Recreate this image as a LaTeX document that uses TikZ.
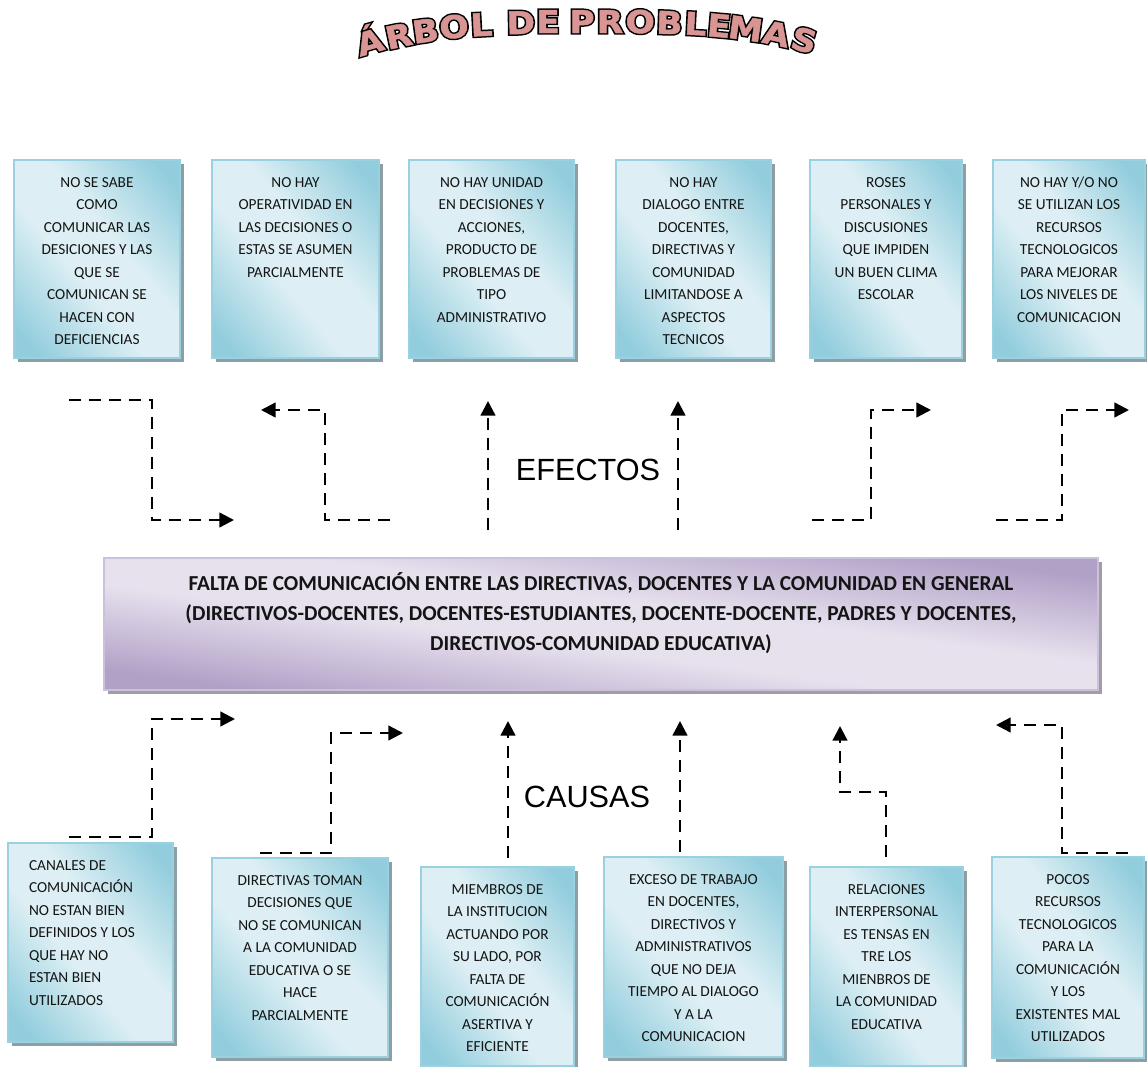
\documentclass[tikz,border=0pt]{standalone}
\usepackage{fontspec}
\usepackage{graphicx}
\setmainfont{Carlito}
\newfontfamily\titlefont{DejaVu Sans Bold}[FakeBold=1.5]
\newfontfamily\titleedge{DejaVu Sans Bold}[FakeBold=11]
\newfontfamily\labelfont{Liberation Sans}
\usetikzlibrary{arrows.meta,backgrounds}

\definecolor{bdark}{HTML}{92CDDD}
\definecolor{blight}{HTML}{DDEFF4}
\definecolor{bedge}{HTML}{9AD1E0}
\definecolor{bshadow}{HTML}{8C9FA5}
\definecolor{pdark}{HTML}{B2A1C7}
\definecolor{plight}{HTML}{E7E1EE}
\definecolor{pedge}{HTML}{CCC1DA}
\definecolor{pshadow}{HTML}{A09DA6}
\definecolor{titlepink}{HTML}{D99594}
\definecolor{inktext}{HTML}{141414}

% diagonal two-tone fills: dark corners, light band along the other diagonal
\pgfdeclareverticalshading{tealdiag}{100bp}{color(0bp)=(bdark); color(20bp)=(bdark); color(43bp)=(blight); color(57bp)=(blight); color(80bp)=(bdark); color(100bp)=(bdark)}
\pgfdeclareverticalshading{lilacdiag}{100bp}{color(0bp)=(pdark); color(20bp)=(pdark); color(43bp)=(plight); color(57bp)=(plight); color(80bp)=(pdark); color(100bp)=(pdark)}

\newlength\px
\setlength\px{0.75pt}

% box body: width, height (px), alignment, lines
\newcommand\boxtext[4]{%
  \begin{minipage}[t][#2\px][t]{#1\px}#3\fontsize{11.5}{16.9}\selectfont\color{inktext}%
  \rule{0pt}{27\px}#4\end{minipage}}

% outlined title letter: a heavier black glyph under the pink one
\newcommand\wordart[1]{\scalebox{1.1}[1]{%
  \rlap{\titleedge\textcolor{black}{#1}}\titlefont\textcolor{titlepink}{#1}}}

% drop shadow and diagonal fill behind a box: node, width, height (px), shading, shadow colour
\newcommand\backdrop[5]{%
  \fill[#5] ([xshift=3pt,yshift=-3pt]#1.north west) rectangle ([xshift=3pt,yshift=-3pt]#1.south east);
  \shade[shading=#4, shading angle=-45,
    transform canvas={shift={(#1.north west)}, xscale=#2/100, yscale=#3/100}]
    (0,0) rectangle (100,100);}

\tikzset{
  tealbox/.style={anchor=north west, inner sep=0pt, outer sep=0pt,
    draw=bedge, line width=1.3pt},
  lilacbox/.style={anchor=north west, inner sep=0pt, outer sep=0pt,
    draw=pedge, line width=1.5pt},
  titleletter/.style={anchor=base, inner sep=0pt, font=\fontsize{23.5}{23.5}\selectfont},
  bigword/.style={inner sep=0pt, font=\labelfont\fontsize{23}{23}\selectfont},
  link/.style={draw=black, line width=1.8pt, dash pattern=on 9pt off 6pt,
    -{Triangle[length=11pt,width=11pt]}},
}

\begin{document}
\begin{tikzpicture}[x=0.75pt,y=-0.75pt]
\useasboundingbox (0,0) rectangle (1147,1067);

% ---- title, set on a gentle arch ----
\node[titleletter, rotate=16]  (t1)  at (373,53) {\wordart{Á}};
\node[titleletter, rotate=12]  (t2)  at (401,47) {\wordart{R}};
\node[titleletter, rotate=8]   (t3)  at (427,42) {\wordart{B}};
\node[titleletter, rotate=5]   (t4)  at (455,38) {\wordart{O}};
\node[titleletter, rotate=3]   (t5)  at (482,36) {\wordart{L}};
\node[titleletter, rotate=1]   (t6)  at (521,34) {\wordart{D}};
\node[titleletter, rotate=0]   (t7)  at (548,33) {\wordart{E}};
\node[titleletter, rotate=0]   (t8)  at (582,33) {\wordart{P}};
\node[titleletter, rotate=0]   (t9)  at (610,33) {\wordart{R}};
\node[titleletter, rotate=-1]  (t10) at (640,33) {\wordart{O}};
\node[titleletter, rotate=-2]  (t11) at (669,34) {\wordart{B}};
\node[titleletter, rotate=-3]  (t12) at (695,35) {\wordart{L}};
\node[titleletter, rotate=-5]  (t13) at (718,37) {\wordart{E}};
\node[titleletter, rotate=-8]  (t14) at (744,40) {\wordart{M}};
\node[titleletter, rotate=-12] (t15) at (774,45) {\wordart{A}};
\node[titleletter, rotate=-16] (t16) at (801,51) {\wordart{S}};

% ---- effects ----
\node[tealbox] (e1) at (14,160) {\boxtext{166}{198}{\centering}{NO SE SABE\\COMO\\COMUNICAR LAS\\DESICIONES Y LAS\\QUE SE\\COMUNICAN SE\\HACEN CON\\DEFICIENCIAS}};
\node[tealbox] (e2) at (212,160) {\boxtext{167}{198}{\centering}{NO HAY\\OPERATIVIDAD EN\\LAS DECISIONES O\\ESTAS SE ASUMEN\\PARCIALMENTE}};
\node[tealbox] (e3) at (409,160) {\boxtext{165}{198}{\centering}{NO HAY UNIDAD\\EN DECISIONES Y\\ACCIONES,\\PRODUCTO DE\\PROBLEMAS DE\\TIPO\\ADMINISTRATIVO}};
\node[tealbox] (e4) at (616,160) {\boxtext{155}{198}{\centering}{NO HAY\\DIALOGO ENTRE\\DOCENTES,\\DIRECTIVAS Y\\COMUNIDAD\\LIMITANDOSE A\\ASPECTOS\\TECNICOS}};
\node[tealbox] (e5) at (810,160) {\boxtext{152}{198}{\centering}{ROSES\\PERSONALES Y\\DISCUSIONES\\QUE IMPIDEN\\UN BUEN CLIMA\\ESCOLAR}};
\node[tealbox] (e6) at (993,160) {\boxtext{152}{198}{\centering}{NO HAY Y/O NO\\SE UTILIZAN LOS\\RECURSOS\\TECNOLOGICOS\\PARA MEJORAR\\LOS NIVELES DE\\COMUNICACION}};

% ---- central problem ----
\node[lilacbox] (core) at (104,558) {\begin{minipage}[t][132\px][t]{994\px}\centering\bfseries\fontsize{16}{22.5}\selectfont\color{inktext}\rule{0pt}{32\px}FALTA DE COMUNICACIÓN ENTRE LAS DIRECTIVAS, DOCENTES Y LA COMUNIDAD EN GENERAL\\(DIRECTIVOS-DOCENTES, DOCENTES-ESTUDIANTES, DOCENTE-DOCENTE, PADRES Y DOCENTES,\\DIRECTIVOS-COMUNIDAD EDUCATIVA)\end{minipage}};

% ---- causes ----
\node[tealbox] (c1) at (8,843) {\boxtext{165}{199}{\raggedright\leftskip=21\px\relax}{CANALES DE\\COMUNICACIÓN\\NO ESTAN BIEN\\DEFINIDOS Y LOS\\QUE HAY NO\\ESTAN BIEN\\UTILIZADOS}};
\node[tealbox] (c2) at (212,858) {\boxtext{176}{199}{\centering}{DIRECTIVAS TOMAN\\DECISIONES QUE\\NO SE COMUNICAN\\A LA COMUNIDAD\\EDUCATIVA O SE\\HACE\\PARCIALMENTE}};
\node[tealbox] (c3) at (421,867) {\boxtext{153}{199}{\centering}{MIEMBROS DE\\LA INSTITUCION\\ACTUANDO POR\\SU LADO, POR\\FALTA DE\\COMUNICACIÓN\\ASERTIVA Y\\EFICIENTE}};
\node[tealbox] (c4) at (604,857) {\boxtext{179}{200}{\centering}{EXCESO DE TRABAJO\\EN DOCENTES,\\DIRECTIVOS Y\\ADMINISTRATIVOS\\QUE NO DEJA\\TIEMPO AL DIALOGO\\Y A LA\\COMUNICACION}};
\node[tealbox] (c5) at (810,867) {\boxtext{153}{199}{\centering}{RELACIONES\\INTERPERSONAL\\ES TENSAS EN\\TRE LOS\\MIENBROS DE\\LA COMUNIDAD\\EDUCATIVA}};
\node[tealbox] (c6) at (992,857) {\boxtext{152}{201}{\centering}{POCOS\\RECURSOS\\TECNOLOGICOS\\PARA LA\\COMUNICACIÓN\\Y LOS\\EXISTENTES MAL\\UTILIZADOS}};

% ---- shadows and fills under the boxes ----
\begin{pgfonlayer}{background}
  \backdrop{e1}{166}{198}{tealdiag}{bshadow}
  \backdrop{e2}{167}{198}{tealdiag}{bshadow}
  \backdrop{e3}{165}{198}{tealdiag}{bshadow}
  \backdrop{e4}{155}{198}{tealdiag}{bshadow}
  \backdrop{e5}{152}{198}{tealdiag}{bshadow}
  \backdrop{e6}{152}{198}{tealdiag}{bshadow}
  \backdrop{core}{994}{132}{lilacdiag}{pshadow}
  \backdrop{c1}{165}{199}{tealdiag}{bshadow}
  \backdrop{c2}{176}{199}{tealdiag}{bshadow}
  \backdrop{c3}{153}{199}{tealdiag}{bshadow}
  \backdrop{c4}{179}{200}{tealdiag}{bshadow}
  \backdrop{c5}{153}{199}{tealdiag}{bshadow}
  \backdrop{c6}{152}{201}{tealdiag}{bshadow}
\end{pgfonlayer}

% ---- section words ----
\node[bigword] (efectos) at (588,470) {EFECTOS};
\node[bigword] (causas) at (587,797) {CAUSAS};

% ---- connector end points ----
\coordinate (ea1) at (69,400);  \coordinate (ea2) at (152,400);  \coordinate (ea3) at (152,520);  \coordinate (ea4) at (234,520);
\coordinate (eb1) at (390,520); \coordinate (eb2) at (325,520);  \coordinate (eb3) at (325,410);  \coordinate (eb4) at (261,410);
\coordinate (ec1) at (488,530); \coordinate (ec2) at (488,401);
\coordinate (ed1) at (678,530); \coordinate (ed2) at (678,401);
\coordinate (ee1) at (812,520); \coordinate (ee2) at (871,520);  \coordinate (ee3) at (871,410);  \coordinate (ee4) at (931,410);
\coordinate (ef1) at (996,520); \coordinate (ef2) at (1062,520); \coordinate (ef3) at (1062,410); \coordinate (ef4) at (1129,410);

\coordinate (ca1) at (69,837);   \coordinate (ca2) at (152,837);  \coordinate (ca3) at (152,719);  \coordinate (ca4) at (235,719);
\coordinate (cb1) at (260,853);  \coordinate (cb2) at (331,853);  \coordinate (cb3) at (331,733);  \coordinate (cb4) at (403,733);
\coordinate (cc1) at (508,858);  \coordinate (cc2) at (508,721);
\coordinate (cd1) at (680,852);  \coordinate (cd2) at (680,721);
\coordinate (ce1) at (886,857);  \coordinate (ce2) at (886,792);  \coordinate (ce3) at (840,792);  \coordinate (ce4) at (840,726);
\coordinate (cf1) at (1128,853); \coordinate (cf2) at (1062,853); \coordinate (cf3) at (1062,725); \coordinate (cf4) at (996,725);

% ---- dashed connectors ----
\draw[link] (ea1) -- (ea2) -- (ea3) -- (ea4);
\draw[link] (eb1) -- (eb2) -- (eb3) -- (eb4);
\draw[link] (ec1) -- (ec2);
\draw[link] (ed1) -- (ed2);
\draw[link] (ee1) -- (ee2) -- (ee3) -- (ee4);
\draw[link] (ef1) -- (ef2) -- (ef3) -- (ef4);

\draw[link] (ca1) -- (ca2) -- (ca3) -- (ca4);
\draw[link] (cb1) -- (cb2) -- (cb3) -- (cb4);
\draw[link] (cc1) -- (cc2);
\draw[link] (cd1) -- (cd2);
\draw[link] (ce1) -- (ce2) -- (ce3) -- (ce4);
\draw[link] (cf1) -- (cf2) -- (cf3) -- (cf4);
\end{tikzpicture}
\end{document}
